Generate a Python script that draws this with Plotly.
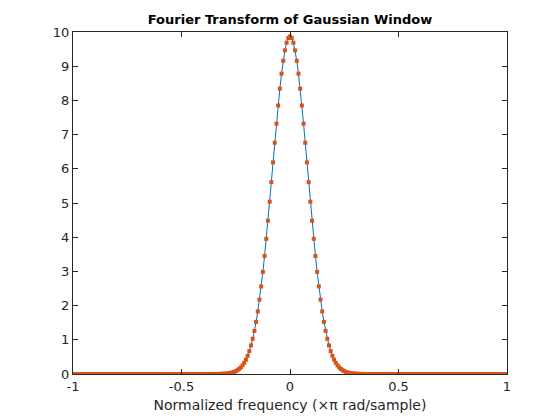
import numpy as np
import plotly.graph_objects as go

# 256-point FFT grid, normalized frequency (x pi rad/sample)
nfft = 256
freq = np.arange(-nfft // 2, nfft // 2) / (nfft // 2)

# |DFT| of the Gaussian window (blue line)
left_tail = [0.0] * 84
core = [
    0.0012, 0.0018, 0.0026, 0.0039, 0.0056, 0.0081, 0.0116, 0.0165, 0.0232,
    0.0324, 0.0447, 0.0610, 0.0827, 0.111, 0.148, 0.194, 0.254, 0.328, 0.420,
    0.533, 0.670, 0.835, 1.030, 1.259, 1.524, 1.829, 2.174, 2.560, 2.986,
    3.451, 3.952, 4.483, 5.038, 5.609, 6.187, 6.761, 7.320, 7.851, 8.343,
    8.782, 9.159, 9.464, 9.687, 9.824, 9.870, 9.824, 9.687, 9.464, 9.159,
    8.782, 8.343, 7.851, 7.320, 6.761, 6.187, 5.609, 5.038, 4.483, 3.952,
    3.451, 2.986, 2.560, 2.174, 1.829, 1.524, 1.259, 1.030, 0.835, 0.670,
    0.533, 0.420, 0.328, 0.254, 0.194, 0.148, 0.111, 0.0827, 0.0610, 0.0447,
    0.0324, 0.0232, 0.0165, 0.0116, 0.0081, 0.0056, 0.0039, 0.0026, 0.0018,
    0.0012,
]
right_tail = [0.0] * 83
window_dft = left_tail + core + right_tail

# analytic Fourier transform samples (red dots)
analytic_ft = list(window_dft)

x_ticks = [-1, -0.5, 0, 0.5, 1]
y_ticks = list(range(0, 11))

fig = go.Figure()
fig.add_trace(go.Scatter(
    x=freq, y=window_dft, mode="lines",
    line={"color": "#0072BD", "width": 1},
    showlegend=False,
))
fig.add_trace(go.Scatter(
    x=freq, y=analytic_ft, mode="markers",
    marker={"color": "#D95319", "size": 4, "symbol": "square"},
    showlegend=False,
))

axis_style = dict(
    showline=True, mirror="ticks", linecolor="#262626", linewidth=1,
    ticks="inside", ticklen=5, tickcolor="#262626",
    showgrid=False, zeroline=False,
    tickfont={"size": 13, "color": "#262626"},
)

fig.update_layout(
    width=560, height=420,
    margin={"l": 65, "r": 61, "t": 24, "b": 54},
    paper_bgcolor="white", plot_bgcolor="white",
    font={"family": "DejaVu Sans, Arial, sans-serif", "color": "#262626"},
    title={
        "text": "<b>Fourier Transform of Gaussian Window</b>",
        "x": 0.5, "xref": "paper", "xanchor": "center",
        "y": 1, "yref": "paper", "yanchor": "bottom", "pad": {"b": 8},
        "font": {"size": 13, "color": "black"},
    },
)
fig.update_xaxes(
    range=[-1, 1], tickvals=x_ticks, ticktext=["-1", "-0.5", "0", "0.5", "1"],
    title={"text": "Normalized frequency (×π rad/sample)", "font": {"size": 14}, "standoff": 7},
    **axis_style,
)
fig.update_yaxes(range=[0, 10], tickvals=y_ticks, **axis_style)

fig.write_html("out.html")
